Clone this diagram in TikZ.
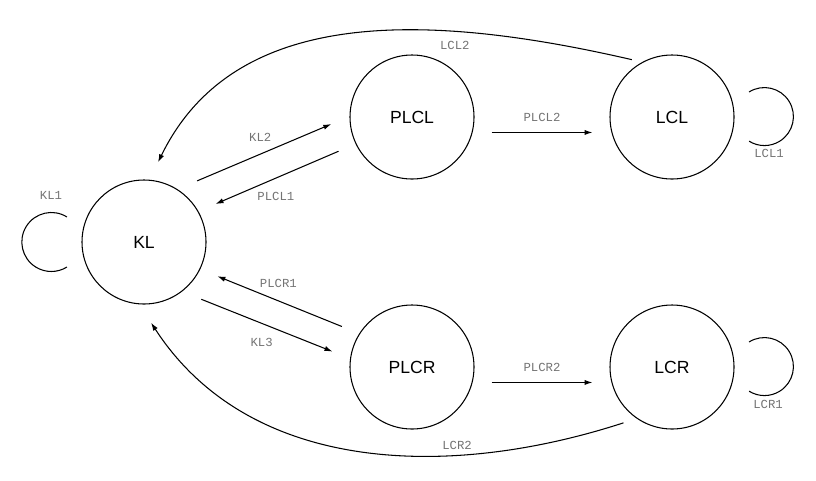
\documentclass[tikz,border=0pt]{standalone}
\usepackage{fontspec}
\setmainfont{Liberation Sans}
\newfontfamily\lblfont{Liberation Mono}
\usepackage{xcolor}
\usetikzlibrary{arrows.meta,calc}
\definecolor{lblgray}{RGB}{115,115,115}

\begin{document}
\begin{tikzpicture}[
  font=\fontsize{10}{12}\selectfont,
  state/.style={draw, circle, minimum size=2.48cm, inner sep=0pt, outer sep=0.38cm, line width=0.6pt},
  arr/.style={-{Latex[length=1.6mm,width=1.05mm]}, line width=0.6pt},
  loopline/.style={line width=0.6pt},
  lbl/.style={font=\lblfont\fontsize{7}{8}\selectfont, text=lblgray, inner sep=1pt},
]
\useasboundingbox (0,0) rectangle (16.32,9.6);
% ---------------- states ----------------
\node[state] (kl) at (2.88,4.76) {KL};
\node[state] (plcl) at (8.24,7.26) {PLCL};
\node[state] (lcl) at (13.44,7.26) {LCL};
\node[state] (plcr) at (8.24,2.26) {PLCR};
\node[state] (lcr) at (13.44,2.26) {LCR};
% ---------------- self loops ----------------
\draw[loopline] (kl.162) arc[start angle=58, end angle=302, radius=0.59cm];
\draw[loopline] (lcl.18) arc[start angle=122, end angle=-122, radius=0.58cm];
\draw[loopline] (lcr.18) arc[start angle=122, end angle=-122, radius=0.58cm];
\node[lbl] (kl1) at (1.02,5.70) {KL1};
\node[lbl] (lcl1) at (15.38,6.54) {LCL1};
\node[lbl] (lcr1) at (15.36,1.52) {LCR1};
% ---------------- upper branch ----------------
\draw[arr] (kl.49) -- (plcl.185) node[lbl,pos=0.47,above=6pt]{KL2};
\draw[arr] (plcl.205) -- (kl.28) node[lbl,pos=0.51,below=7pt]{PLCL1};
\draw[arr] (plcl.-11) -- (lcl.191) node[lbl,midway,above=5pt]{PLCL2};
\draw[arr] ($(lcl)+(125:1.4)$) .. controls +(167:4.4) and +(64:3.4) .. (kl.80)
  node[lbl,pos=0.29,below=4pt]{LCL2};
% ---------------- lower branch ----------------
\draw[arr] (plcr.150) -- (kl.-25) node[lbl,pos=0.51,above=6pt]{PLCR1};
\draw[arr] (kl.-45) -- (plcr.169) node[lbl,pos=0.46,below=7pt]{KL3};
\draw[arr] (plcr.-11) -- (lcr.191) node[lbl,midway,above=5pt]{PLCR2};
\draw[arr] ($(lcr)+(229:1.48)$) .. controls +(198:3.7) and +(-57:3.6) .. (kl.-85)
  node[lbl,pos=0.31,above=2pt]{LCR2};
\end{tikzpicture}
\end{document}
